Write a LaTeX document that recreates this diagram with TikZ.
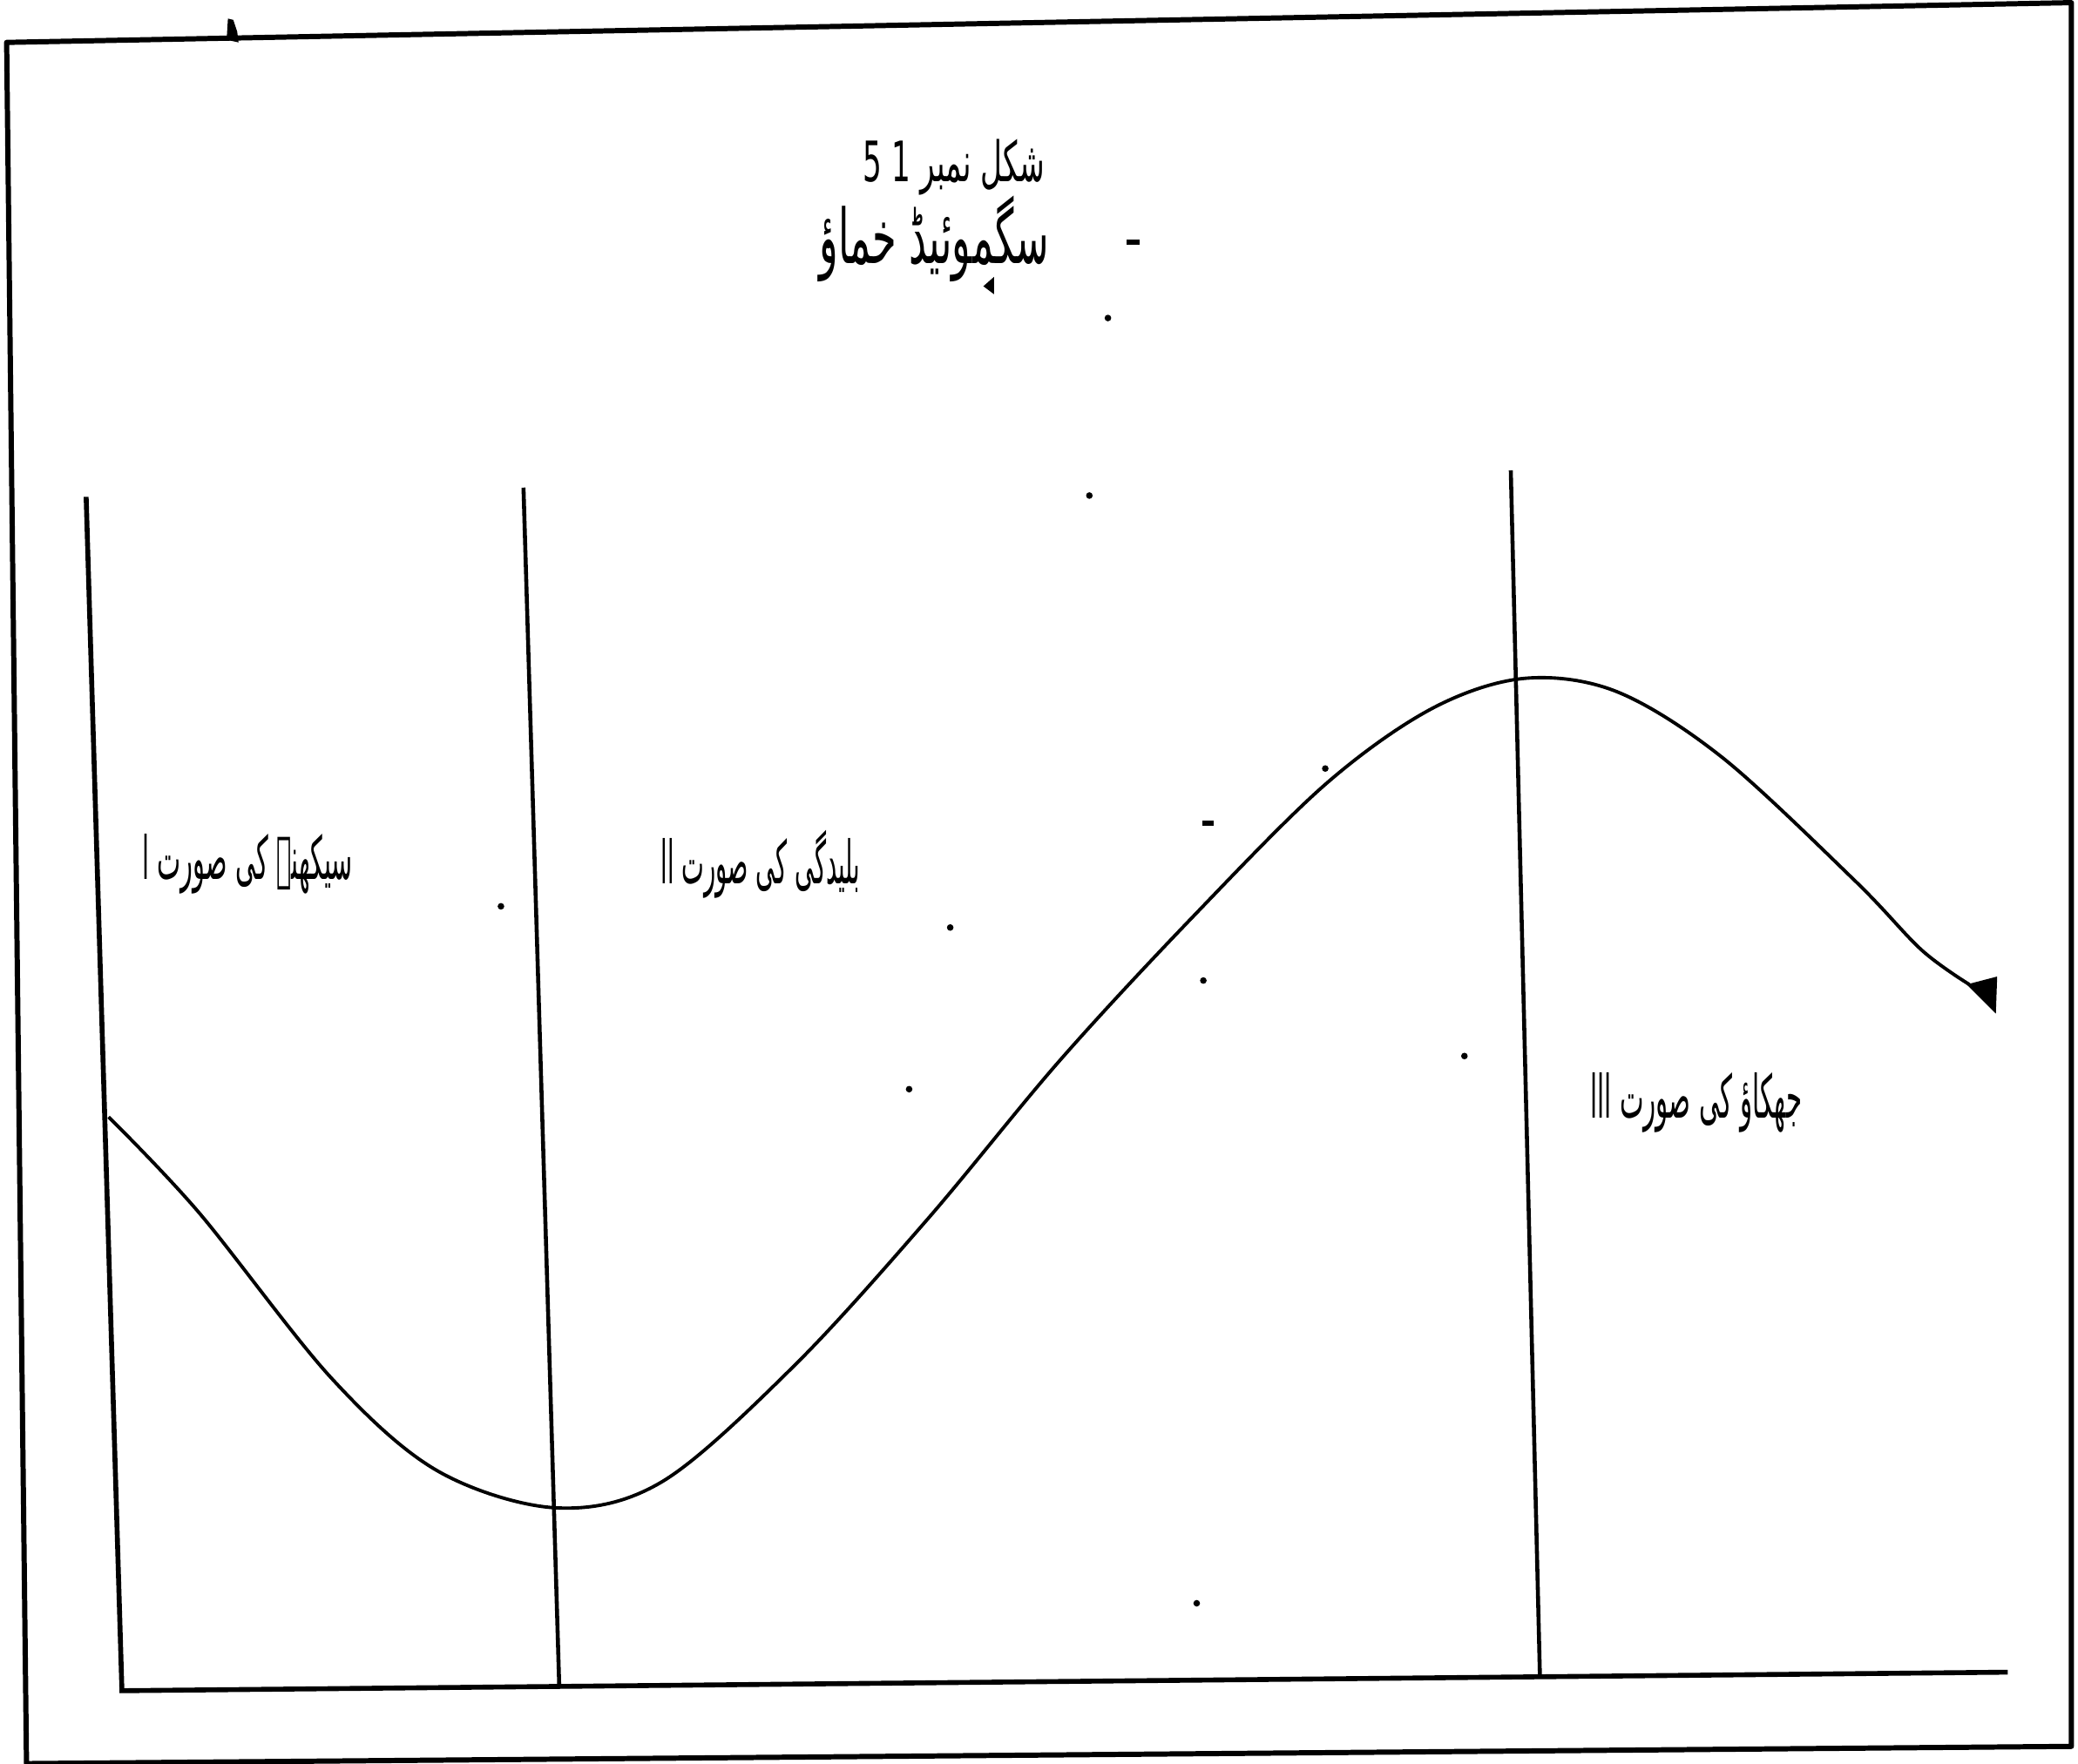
\documentclass[tikz,border=0pt]{standalone}
\usepackage{fontspec}
\usepackage{graphicx}
\TeXXeTstate=1
\newfontfamily\urdufont[Script=Arabic]{DejaVu Sans}
\begin{document}
\begin{tikzpicture}[x=0.01521cm,y=-0.01521cm,
  frameline/.style={line width=1.7pt,line join=round},
  axisline/.style={line width=1.6pt},
  divline/.style={line width=1.3pt},
  curveline/.style={line width=1.1pt},
  lbl/.style={inner sep=0pt,font=\urdufont\fontsize{13}{15}\selectfont},
  speck/.style={fill=black}]
\useasboundingbox (0,0) rectangle (1568,1331);
% outer frame
\coordinate (ftl) at (5,32);
\coordinate (ftr) at (1563,2);
\coordinate (fbr) at (1563,1318);
\coordinate (fbl) at (20,1331);
\draw[frameline] (ftl) -- (ftr) -- (fbr) -- (fbl) -- cycle;
\fill (171,30) -- (172,14) -- (176,15) -- (179,24) -- (180,32) -- cycle;
% axes
\coordinate (ay) at (65,375);
\coordinate (o) at (92,1276);
\coordinate (ax) at (1515,1262);
\draw[axisline] (ay) -- (o) -- (ax);
% dividers
\coordinate (d1t) at (395,368);
\coordinate (d1b) at (422,1273);
\coordinate (d2t) at (1140,355);
\coordinate (d2b) at (1162,1266);
\draw[divline] (d1t) -- (d1b);
\draw[divline] (d2t) -- (d2b);
% curve
\draw[curveline] plot[smooth,tension=0.55] coordinates {
 (82,843) (150,915) (250,1040) (330,1110) (420,1138) (500,1118)
 (600,1030) (700,920) (800,800) (900,692) (1000,592) (1080,535)
 (1150,512) (1220,522) (1300,572) (1400,665) (1450,717) (1486,743)};
\fill (1484,743) -- (1507,737) -- (1506,765) -- cycle;
% texts
\node[lbl] (fig) at (720,126) {\scalebox{0.75}[1.4]{\beginR شکل نمبر \beginL 5 1\endL\endR}};
\node[lbl,font=\urdufont\fontsize{17}{20}\selectfont] (title) at (705,180) {\scalebox{0.75}[1.45]{\beginR سگموئیڈ خماؤ\endR}};
\node[lbl] (s1) at (187,652) {\scalebox{0.63}[1.5]{\beginR سیکھنے کی صورت ا\endR}};
\node[lbl] (s2) at (574,652) {\scalebox{0.6}[1.5]{\beginR بلیدگی کی صورت اا\endR}};
\node[lbl] (s3) at (1280,832) {\scalebox{0.64}[1.5]{\beginR جھکاؤ کی صورت ااا\endR}};
% scan specks
\foreach \p in {(625,185),(836,240),(822,374),(1000,580),(378,684),(717,700),(908,740),(1105,797),(686,822),(903,1210)}
  \fill[speck] \p circle (2.5);
\fill (850,181) rectangle (860,185);
\fill (907,619) rectangle (916,623);
\fill (742,216) -- (750,209) -- (750,222) -- cycle;
\end{tikzpicture}
\end{document}
